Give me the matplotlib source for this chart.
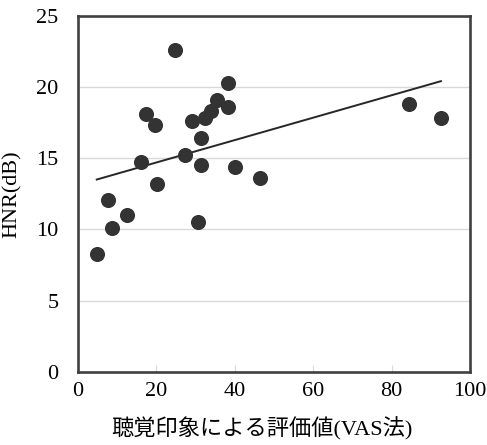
import matplotlib
matplotlib.use("Agg")
import matplotlib.pyplot as plt

# data
vas = [4.9, 7.6, 8.8, 12.5, 16.1, 17.3, 19.7, 20.2, 24.7, 27.3, 29.2, 30.7,
       31.5, 31.5, 32.4, 33.9, 35.6, 38.2, 38.2, 40.1, 46.4, 84.4, 92.5]
hnr = [8.3, 12.1, 10.1, 11.0, 14.7, 18.1, 17.3, 13.2, 22.6, 15.2, 17.6, 10.5,
       16.4, 14.5, 17.8, 18.3, 19.1, 20.3, 18.6, 14.4, 13.6, 18.8, 17.8]
trend_x = [4.8, 92.6]
trend_y = [13.5, 20.4]
xticks = [0, 20, 40, 60, 80, 100]
yticks = [0, 5, 10, 15, 20, 25]
xlabel = "聴覚印象による評価値(VAS法)"
ylabel = "HNR(dB)"

serif = ["Liberation Serif", "Noto Sans CJK JP"]
fs = 16

fig = plt.figure(figsize=(4.87, 4.45), dpi=100)
ax = fig.add_axes([0.160, 0.164, 0.805, 0.801])

for y in yticks[1:-1]:
    ax.axhline(y, color="#d9d9d9", lw=1.0, zorder=0)

ax.scatter(vas, hnr, s=118, color="#333333", zorder=3, linewidths=0)
ax.plot(trend_x, trend_y, color="#262626", lw=1.4, zorder=2)

ax.set_xlim(0, 100)
ax.set_ylim(0, 25)
ax.set_xticks(xticks)
ax.set_yticks(yticks)
ax.set_xticklabels([str(t) for t in xticks], family=serif, fontsize=fs)
ax.set_yticklabels([str(t) for t in yticks], family=serif, fontsize=fs)
ax.tick_params(axis="x", direction="in", length=5, color="#d9d9d9", pad=7)
ax.tick_params(axis="y", length=0, pad=14)

for s in ax.spines.values():
    s.set_color("#404040")
    s.set_linewidth(1.9)

ax.set_xlabel(xlabel, family=serif, fontsize=fs, labelpad=12)
ax.xaxis.label.set_x(0.47)
ax.set_ylabel(ylabel, family=serif, fontsize=fs, labelpad=10)

fig.savefig("out.png", dpi=100)
